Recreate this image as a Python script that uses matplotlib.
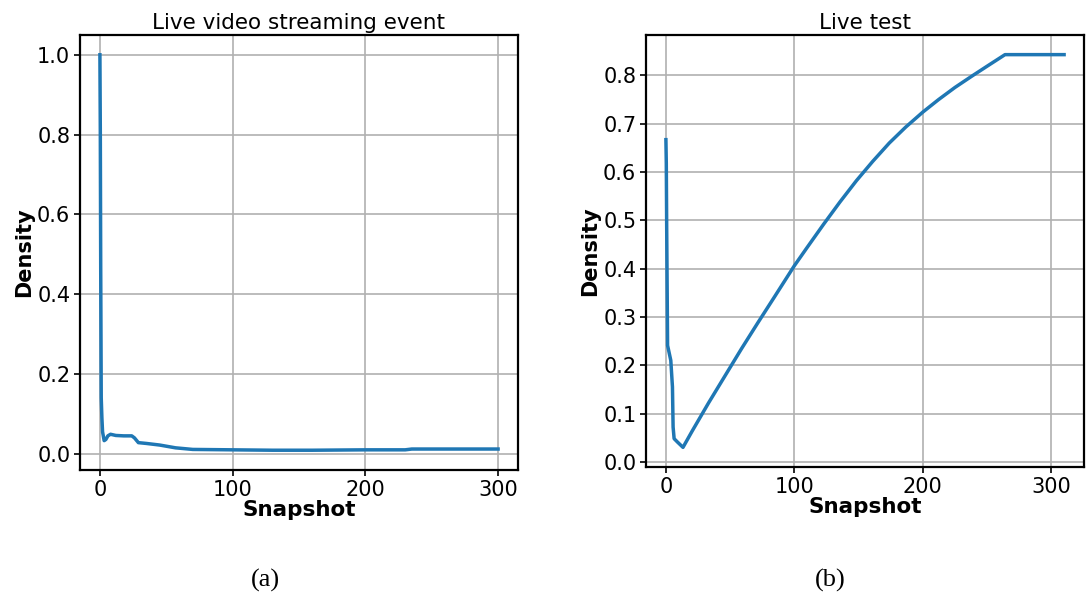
import matplotlib
matplotlib.use('Agg')
import matplotlib.pyplot as plt

# ==================== 数据 ====================
# (a) Live video streaming event
snap_a = [0, 0.3, 0.6, 1, 1.5, 2, 3.2, 4.5, 6, 8, 12, 18, 24, 26, 29, 35,
          45, 57, 70, 100, 130, 160, 200, 230, 235, 260, 300]
dens_a = [1.0, 0.81, 0.47, 0.14, 0.09, 0.055, 0.033, 0.036, 0.045, 0.049,
          0.046, 0.045, 0.045, 0.040, 0.028, 0.026, 0.022, 0.015, 0.011,
          0.010, 0.009, 0.009, 0.010, 0.010, 0.012, 0.012, 0.012]

# (b) Live test
snap_b = [0, 0.3, 0.6, 1.0, 1.3, 3.8, 5.1, 5.6, 6.4, 9, 13.3, 20.5, 33.2,
          46, 58.8, 71.6, 84.4, 100, 110, 122.8, 135.5, 148.3, 161, 173.9,
          186.7, 200, 212.3, 225, 237.9, 250.6, 264, 310]
dens_b = [0.667, 0.618, 0.487, 0.349, 0.241, 0.21, 0.155, 0.072, 0.048,
          0.041, 0.030, 0.064, 0.122, 0.178, 0.234, 0.288, 0.341, 0.406,
          0.444, 0.492, 0.538, 0.582, 0.622, 0.660, 0.693, 0.724, 0.750,
          0.775, 0.798, 0.820, 0.843, 0.843]

TITLES = ['Live video streaming event', 'Live test']
CAPTIONS = ['(a)', '(b)']
LINE_COLOR = '#1f77b4'

W, H = 1086, 599
fig = plt.figure(figsize=(W / 100, H / 100), dpi=100)

# 轴位置 (像素)
boxes = [(80, 35, 518, 470), (646, 35, 1084, 467)]
datasets = [(snap_a, dens_a), (snap_b, dens_b)]

for i, ((x0, y0, x1, y1), (xs, ys)) in enumerate(zip(boxes, datasets)):
    ax = fig.add_axes([x0 / W, 1 - y1 / H, (x1 - x0) / W, (y1 - y0) / H])
    ax.plot(xs, ys, color=LINE_COLOR, linewidth=2.5)
    ax.set_xticks([0, 100, 200, 300])
    ax.grid(True, color='#b0b0b0', linewidth=1.2)
    ax.set_axisbelow(True)
    ax.set_title(TITLES[i], fontsize=15.5, pad=4)
    ax.set_xlabel('Snapshot', fontsize=15.5, fontweight='bold', labelpad=0)
    ax.set_ylabel('Density', fontsize=15, fontweight='bold', labelpad=2)
    ax.tick_params(labelsize=15, width=1.2, length=4, color='black', pad=3)
    for sp in ax.spines.values():
        sp.set_linewidth(1.6)
        sp.set_color('black')

# 子图标签
fig.text(265 / W, 1 - 580 / H, CAPTIONS[0], fontsize=19, family='Liberation Serif',
         ha='center', va='center')
fig.text(830 / W, 1 - 580 / H, CAPTIONS[1], fontsize=19, family='Liberation Serif',
         ha='center', va='center')

fig.savefig('out.png', dpi=100)
